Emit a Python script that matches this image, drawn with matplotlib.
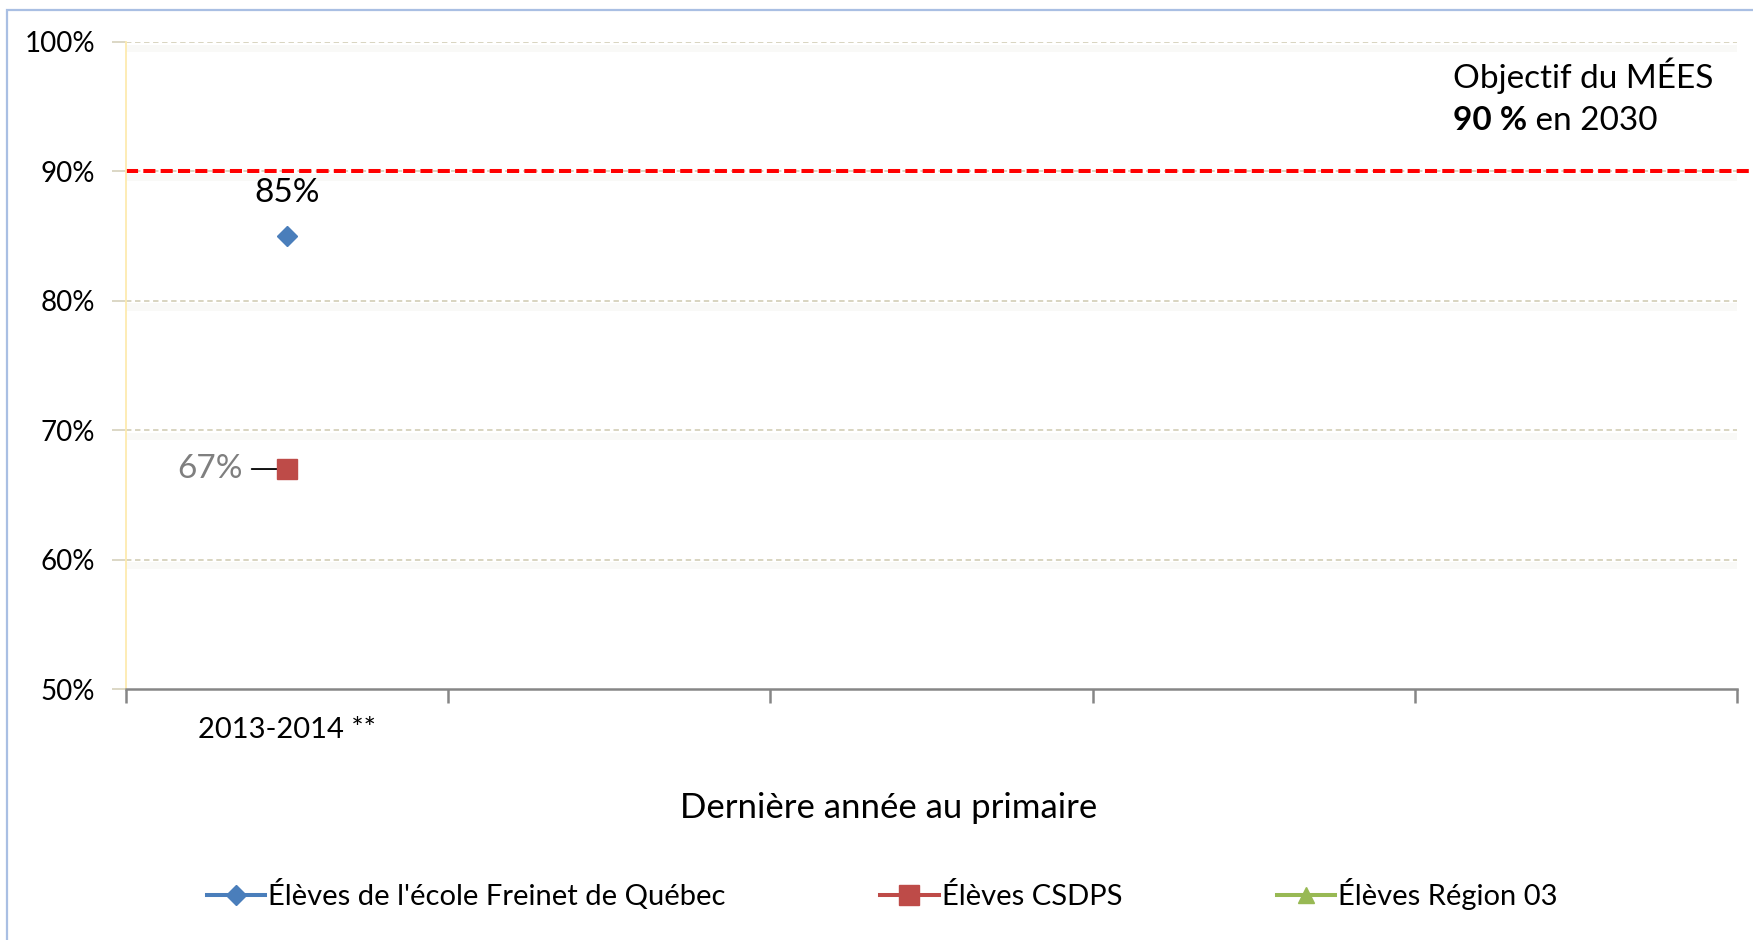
import numpy as np
import matplotlib
matplotlib.use("Agg")
import matplotlib.pyplot as plt
from matplotlib.patches import Rectangle
from matplotlib.ticker import FixedLocator, PercentFormatter

plt.rcParams['font.family'] = ['Lato', 'DejaVu Sans']

# ---- data ----
categories = ["2013-2014 **", "", "", "", ""]
freinet = [0.85, np.nan, np.nan, np.nan, np.nan]
csdps = [0.67, np.nan, np.nan, np.nan, np.nan]
region03 = [np.nan, np.nan, np.nan, np.nan, np.nan]
objectif = 0.90
series_labels = ["Élèves de l'école Freinet de Québec", "Élèves CSDPS", "Élèves Région 03"]
yticks = [0.5, 0.6, 0.7, 0.8, 0.9, 1.0]

W, H = 1753, 940
fig = plt.figure(figsize=(W / 100, H / 100), dpi=100)
ax_l, ax_r, ax_t, ax_b = 126, 1737, 42, 689
ax = fig.add_axes([ax_l / W, 1 - ax_b / H, (ax_r - ax_l) / W, (ax_b - ax_t) / H])

x = np.arange(len(categories)) + 0.5
blue, red, green = '#4a7ebb', '#be4b48', '#98b954'
grid_c = '#d6d1bb'

# outer chart border (left + top visible)
fig.patches.append(Rectangle((7 / W, -0.1), 1.2, 1 - 10 / H + 0.1, transform=fig.transFigure,
                             fill=False, edgecolor='#a9bfe3', lw=1.6, zorder=0))

# gridlines with faint shadow band
for yv in yticks[1:]:
    ax.axhspan(yv - 0.0075, yv - 0.002, color='#f9f9f7', lw=0, zorder=0)
    ax.axhline(yv, color=grid_c, lw=1.3, ls=(0, (3, 2)), zorder=1)

# objective line
ax.axhline(objectif, xmin=0, xmax=1.02, color='#ff0000', lw=2.9, ls=(0, (3, 1.3)),
           clip_on=False, zorder=2)

l1, = ax.plot(x, freinet, color=blue, lw=2.9, marker='D', ms=10, label=series_labels[0], zorder=4)
l2, = ax.plot(x, csdps, color=red, lw=2.9, marker='s', ms=14, label=series_labels[1], zorder=4)
l3, = ax.plot(x, region03, color=green, lw=2.9, marker='^', ms=12, label=series_labels[2], zorder=4)

# data labels
for xi, v in zip(x, freinet):
    if not np.isnan(v):
        ax.annotate(f"{v:.0%}", (xi, v), xytext=(0, 31), textcoords='offset points',
                    ha='center', va='center', fontsize=24, color='black')
for xi, v in zip(x, csdps):
    if not np.isnan(v):
        ax.annotate(f"{v:.0%}", (xi, v), xytext=(-32, 0), textcoords='offset points',
                    ha='right', va='center', fontsize=24, color='#7f7f7f')
        ax.annotate('', xy=(xi, v), xytext=(-25.5, 0), textcoords='offset points',
                    arrowprops=dict(arrowstyle='-', color='black', lw=1.3, shrinkA=0, shrinkB=0))

ax.set_xlim(0, len(categories))
ax.set_ylim(0.5, 1.0)
ax.yaxis.set_major_locator(FixedLocator(yticks))
ax.yaxis.set_major_formatter(PercentFormatter(1.0, decimals=0))
ax.tick_params(axis='y', length=10, width=1.2, color=grid_c, labelsize=20, pad=12)

ax.set_xticks(np.arange(len(categories) + 1))
ax.set_xticklabels([])
ax.set_xticks(x, minor=True)
ax.set_xticklabels(categories, minor=True)
ax.tick_params(axis='x', which='major', length=10, width=1.8, color='#868686', direction='out')
ax.tick_params(axis='x', which='minor', length=0, labelsize=21, pad=20)

for s in ['top', 'right']:
    ax.spines[s].set_visible(False)
ax.spines['bottom'].set_color('#868686')
ax.spines['bottom'].set_linewidth(1.8)
ax.spines['left'].set_color('#fdebb0')
ax.spines['left'].set_linewidth(1.3)

ax.set_xlabel("Dernière année au primaire", fontsize=25, va='center')
ax.xaxis.set_label_coords((889 - ax_l) / (ax_r - ax_l), -(808 - ax_b) / (ax_b - ax_t))

# objective annotation
fig.text(1453 / W, 1 - 76 / H, "Objectif du MÉES", fontsize=24, ha='left', va='center')
t2 = fig.text(1453 / W, 1 - 121 / H, "90 %", fontsize=24, fontweight='bold', ha='left', va='center')
ax.annotate(" en 2030", xy=(1, 0), xycoords=t2, ha='left', va='bottom', fontsize=24)

fig.legend(handles=[l1, l2, l3], loc='center left', bbox_to_anchor=(207 / W, 1 - 894 / H),
           ncol=3, frameon=False, fontsize=21, handlelength=2.0, handletextpad=0.1,
           columnspacing=5.3, borderaxespad=0, borderpad=0)

fig.savefig("out.png", dpi=100, facecolor='white')
